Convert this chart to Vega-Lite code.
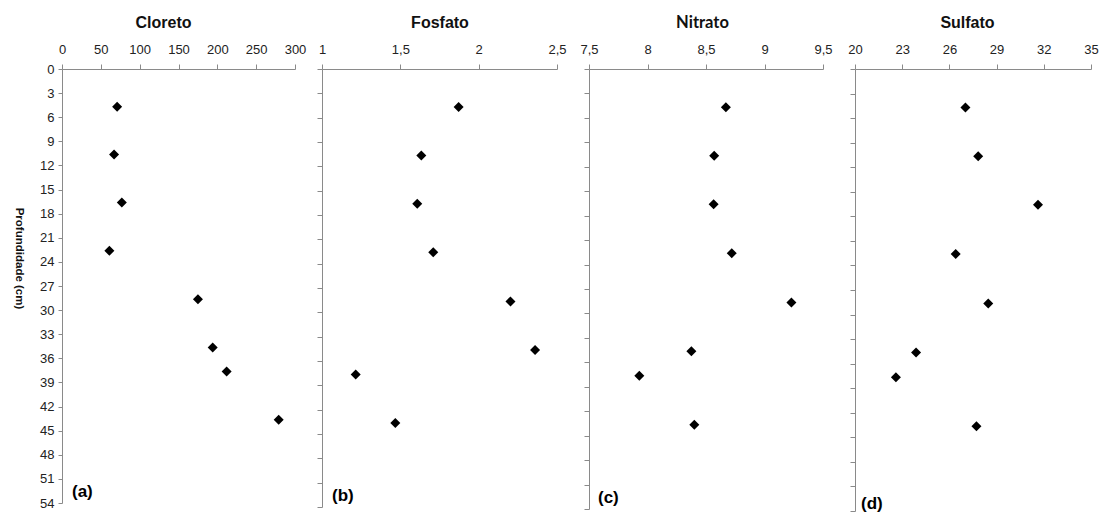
{
  "$schema": "https://vega.github.io/schema/vega-lite/v6.json",
  "background": "white",
  "padding": {"left": 13, "top": 14, "right": 0, "bottom": 0},
  "datasets": {
    "perfil": [
      {"prof": 4.7, "cloreto": 71, "fosfato": 1.872, "nitrato": 8.67, "sulfato": 27.02},
      {"prof": 10.65, "cloreto": 67, "fosfato": 1.634, "nitrato": 8.57, "sulfato": 27.83},
      {"prof": 16.6, "cloreto": 77, "fosfato": 1.608, "nitrato": 8.565, "sulfato": 31.63},
      {"prof": 22.6, "cloreto": 61, "fosfato": 1.71, "nitrato": 8.72, "sulfato": 26.4},
      {"prof": 28.65, "cloreto": 175, "fosfato": 2.203, "nitrato": 9.23, "sulfato": 28.47},
      {"prof": 34.65, "cloreto": 194, "fosfato": 2.36, "nitrato": 8.375, "sulfato": 23.88},
      {"prof": 37.65, "cloreto": 212, "fosfato": 1.215, "nitrato": 7.93, "sulfato": 22.6},
      {"prof": 43.65, "cloreto": 279, "fosfato": 1.468, "nitrato": 8.4, "sulfato": 27.72}
    ]
  },
  "config": {
    "view": {"stroke": null},
    "font": "Liberation Sans",
    "axis": {
      "grid": false,
      "domainColor": "#8a8a8a",
      "tickColor": "#8a8a8a",
      "labelFont": "Liberation Sans",
      "labelFontSize": 13,
      "labelColor": "#222222",
      "labelFlush": false,
      "labelOverlap": false,
      "titleFont": "Liberation Sans",
      "titleFontWeight": "bold",
      "titleColor": "#111111"
    }
  },
  "bounds": "flush",
  "spacing": 27,
  "hconcat": [
    {
      "width": 233,
      "height": 434,
      "layer": [
        {
          "data": {"name": "perfil"},
          "mark": {"type": "point", "shape": "diamond", "filled": true, "size": 100, "color": "#000000", "opacity": 1},
          "encoding": {
            "x": {
              "field": "cloreto", "type": "quantitative",
              "scale": {"domain": [0, 300], "nice": false, "zero": false},
              "axis": {"orient": "top", "values": [0, 50, 100, 150, 200, 250, 300], "title": "Cloreto", "titleFontSize": 16, "titlePadding": 13, "titleX": 101, "tickSize": 5, "labelPadding": 8}
            },
            "y": {
              "field": "prof", "type": "quantitative",
              "scale": {"domain": [0, 54], "reverse": true, "nice": false, "zero": false},
              "axis": {"values": [0, 3, 6, 9, 12, 15, 18, 21, 24, 27, 30, 33, 36, 39, 42, 45, 48, 51, 54], "title": "Profundidade (cm)", "titleFontSize": 11.5, "titleAngle": 90, "titleBaseline": "top", "titleY": 189, "titlePadding": 15, "tickSize": 4, "labelPadding": 4}
            }
          }
        },
        {
          "data": {"values": [{"painel": "(a)"}]},
          "mark": {"type": "text", "align": "left", "baseline": "middle", "dx": 10, "fontSize": 17, "fontWeight": "bold", "color": "#000000"},
          "encoding": {
            "x": {"datum": 0, "type": "quantitative",
              "axis": {"orient": "top", "values": [0, 50, 100, 150, 200, 250, 300], "title": "Cloreto", "titleFontSize": 16, "titlePadding": 13, "titleX": 101, "tickSize": 5, "labelPadding": 8}},
            "y": {"datum": 52.6, "type": "quantitative",
              "axis": {"values": [0, 3, 6, 9, 12, 15, 18, 21, 24, 27, 30, 33, 36, 39, 42, 45, 48, 51, 54], "title": "Profundidade (cm)", "titleFontSize": 11.5, "titleAngle": 90, "titleBaseline": "top", "titleY": 189, "titlePadding": 15, "tickSize": 4, "labelPadding": 4}},
            "text": {"field": "painel"}
          }
        }
      ]
    },
    {
      "bounds": "flush",
      "spacing": 32,
      "hconcat": [
        {
          "width": 235,
          "height": 438,
          "layer": [
            {
              "data": {"name": "perfil"},
              "mark": {"type": "point", "shape": "diamond", "filled": true, "size": 100, "color": "#000000", "opacity": 1},
              "encoding": {
                "x": {
                  "field": "fosfato", "type": "quantitative",
                  "scale": {"domain": [1, 2.5], "nice": false, "zero": false},
                  "axis": {"orient": "top", "values": [1, 1.5, 2, 2.5], "labelExpr": "replace(format(datum.value, '~g'), '.', ',')", "title": "Fosfato", "titleFontSize": 16, "titlePadding": 13, "tickSize": 5, "labelPadding": 8}
                },
                "y": {
                  "field": "prof", "type": "quantitative",
                  "scale": {"domain": [0, 54], "reverse": true, "nice": false, "zero": false},
                  "axis": {"values": [0, 3, 6, 9, 12, 15, 18, 21, 24, 27, 30, 33, 36, 39, 42, 45, 48, 51, 54], "labels": false, "title": null, "tickSize": 5}
                }
              }
            },
            {
              "data": {"values": [{"painel": "(b)"}]},
              "mark": {"type": "text", "align": "left", "baseline": "middle", "dx": 10, "fontSize": 17, "fontWeight": "bold", "color": "#000000"},
              "encoding": {
                "x": {"datum": 1, "type": "quantitative",
                  "axis": {"orient": "top", "values": [1, 1.5, 2, 2.5], "labelExpr": "replace(format(datum.value, '~g'), '.', ',')", "title": "Fosfato", "titleFontSize": 16, "titlePadding": 13, "tickSize": 5, "labelPadding": 8}},
                "y": {"datum": 52.6, "type": "quantitative",
                  "axis": {"values": [0, 3, 6, 9, 12, 15, 18, 21, 24, 27, 30, 33, 36, 39, 42, 45, 48, 51, 54], "labels": false, "title": null, "tickSize": 5}},
                "text": {"field": "painel"}
              }
            }
          ]
        },
        {
          "width": 234,
          "height": 440,
          "layer": [
            {
              "data": {"name": "perfil"},
              "mark": {"type": "point", "shape": "diamond", "filled": true, "size": 100, "color": "#000000", "opacity": 1},
              "encoding": {
                "x": {
                  "field": "nitrato", "type": "quantitative",
                  "scale": {"domain": [7.5, 9.5], "nice": false, "zero": false},
                  "axis": {"orient": "top", "values": [7.5, 8, 8.5, 9, 9.5], "labelExpr": "replace(format(datum.value, '~g'), '.', ',')", "title": "Nitrato", "titleFont": "Lato", "titleFontSize": 16.5, "titlePadding": 13, "titleX": 113, "tickSize": 5, "labelPadding": 8}
                },
                "y": {
                  "field": "prof", "type": "quantitative",
                  "scale": {"domain": [0, 54], "reverse": true, "nice": false, "zero": false},
                  "axis": {"values": [0, 3, 6, 9, 12, 15, 18, 21, 24, 27, 30, 33, 36, 39, 42, 45, 48, 51, 54], "labels": false, "title": null, "tickSize": 5}
                }
              }
            },
            {
              "data": {"values": [{"painel": "(c)"}]},
              "mark": {"type": "text", "align": "left", "baseline": "middle", "dx": 9, "fontSize": 17, "fontWeight": "bold", "color": "#000000"},
              "encoding": {
                "x": {"datum": 7.5, "type": "quantitative",
                  "axis": {"orient": "top", "values": [7.5, 8, 8.5, 9, 9.5], "labelExpr": "replace(format(datum.value, '~g'), '.', ',')", "title": "Nitrato", "titleFont": "Lato", "titleFontSize": 16.5, "titlePadding": 13, "titleX": 113, "tickSize": 5, "labelPadding": 8}},
                "y": {"datum": 52.6, "type": "quantitative",
                  "axis": {"values": [0, 3, 6, 9, 12, 15, 18, 21, 24, 27, 30, 33, 36, 39, 42, 45, 48, 51, 54], "labels": false, "title": null, "tickSize": 5}},
                "text": {"field": "painel"}
              }
            }
          ]
        },
        {
          "width": 236,
          "height": 442,
          "layer": [
            {
              "data": {"name": "perfil"},
              "mark": {"type": "point", "shape": "diamond", "filled": true, "size": 100, "color": "#000000", "opacity": 1},
              "encoding": {
                "x": {
                  "field": "sulfato", "type": "quantitative",
                  "scale": {"domain": [20, 35], "nice": false, "zero": false},
                  "axis": {"orient": "top", "values": [20, 23, 26, 29, 32, 35], "title": "Sulfato", "titleFontSize": 16, "titlePadding": 13, "titleX": 112, "tickSize": 5, "labelPadding": 8}
                },
                "y": {
                  "field": "prof", "type": "quantitative",
                  "scale": {"domain": [0, 54], "reverse": true, "nice": false, "zero": false},
                  "axis": {"values": [0, 3, 6, 9, 12, 15, 18, 21, 24, 27, 30, 33, 36, 39, 42, 45, 48, 51, 54], "labels": false, "title": null, "tickSize": 5}
                }
              }
            },
            {
              "data": {"values": [{"painel": "(d)"}]},
              "mark": {"type": "text", "align": "left", "baseline": "middle", "dx": 6, "fontSize": 17, "fontWeight": "bold", "color": "#000000"},
              "encoding": {
                "x": {"datum": 20, "type": "quantitative",
                  "axis": {"orient": "top", "values": [20, 23, 26, 29, 32, 35], "title": "Sulfato", "titleFontSize": 16, "titlePadding": 13, "titleX": 112, "tickSize": 5, "labelPadding": 8}},
                "y": {"datum": 53.2, "type": "quantitative",
                  "axis": {"values": [0, 3, 6, 9, 12, 15, 18, 21, 24, 27, 30, 33, 36, 39, 42, 45, 48, 51, 54], "labels": false, "title": null, "tickSize": 5}},
                "text": {"field": "painel"}
              }
            }
          ]
        }
      ]
    }
  ]
}
